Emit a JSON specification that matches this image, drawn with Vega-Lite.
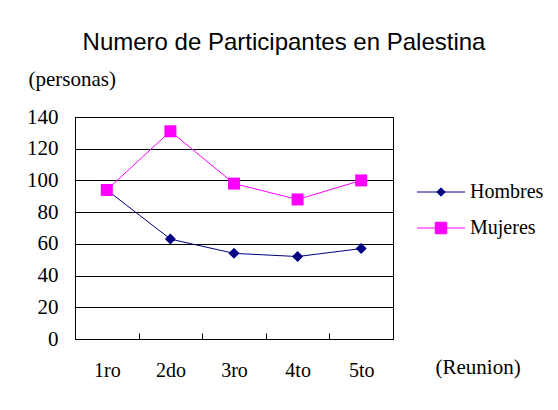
{
  "$schema": "https://vega.github.io/schema/vega-lite/v6.json",
  "width": 318,
  "height": 222,
  "autosize": "none",
  "padding": {"left": 75, "top": 117, "right": 165, "bottom": 71},
  "background": "white",
  "title": {
    "text": "Numero de Participantes en Palestina",
    "font": "Liberation Sans",
    "fontSize": 24,
    "fontWeight": "normal",
    "color": "black",
    "anchor": "middle",
    "frame": "group",
    "dx": 50,
    "offset": 13
  },
  "data": {
    "values": [
      {"reunion": "1ro", "serie": "Hombres", "personas": 94},
      {"reunion": "2do", "serie": "Hombres", "personas": 63},
      {"reunion": "3ro", "serie": "Hombres", "personas": 54},
      {"reunion": "4to", "serie": "Hombres", "personas": 52},
      {"reunion": "5to", "serie": "Hombres", "personas": 57},
      {"reunion": "1ro", "serie": "Mujeres", "personas": 94},
      {"reunion": "2do", "serie": "Mujeres", "personas": 131},
      {"reunion": "3ro", "serie": "Mujeres", "personas": 98},
      {"reunion": "4to", "serie": "Mujeres", "personas": 88},
      {"reunion": "5to", "serie": "Mujeres", "personas": 100}
    ]
  },
  "encoding": {
    "x": {
      "field": "reunion",
      "type": "nominal",
      "sort": null,
      "scale": {"type": "band", "paddingInner": 0, "paddingOuter": 0},
      "axis": {
        "title": "(Reunion)",
        "titleFont": "Liberation Serif",
        "titleFontSize": 21,
        "titleFontWeight": "normal",
        "titleColor": "black",
        "titleAlign": "left",
        "titleBaseline": "alphabetic",
        "titleX": 360,
        "titleY": 34,
        "labelAngle": 0,
        "labelFont": "Liberation Serif",
        "labelFontSize": 20,
        "labelColor": "black",
        "labelPadding": 27,
        "tickBand": "extent",
        "tickSize": -6,
        "tickColor": "black",
        "domainColor": "black",
        "grid": false
      }
    },
    "y": {
      "field": "personas",
      "type": "quantitative",
      "scale": {"domain": [0, 140], "nice": false},
      "axis": {
        "title": "(personas)",
        "titleFont": "Liberation Serif",
        "titleFontSize": 21,
        "titleFontWeight": "normal",
        "titleColor": "black",
        "titleAngle": 0,
        "titleAlign": "left",
        "titleBaseline": "middle",
        "titleX": -47,
        "titleY": -38,
        "values": [0, 20, 40, 60, 80, 100, 120, 140],
        "labelFont": "Liberation Serif",
        "labelFontSize": 21,
        "labelColor": "black",
        "labelPadding": 17,
        "tickSize": 0,
        "domainColor": "black",
        "grid": true,
        "gridColor": "black",
        "gridWidth": 1,
        "gridOpacity": 1
      }
    },
    "color": {
      "field": "serie",
      "type": "nominal",
      "scale": {"domain": ["Hombres", "Mujeres"], "range": ["#000080", "#FF00FF"]},
      "legend": {
        "orient": "none",
        "legendX": 356,
        "legendY": 65,
        "title": null,
        "padding": 0,
        "symbolSize": 100,
        "labelFont": "Liberation Serif",
        "labelFontSize": 20,
        "labelColor": "black",
        "labelOffset": 19,
        "rowPadding": 16,
        "encoding": {
          "symbols": {
            "shape": {"value": {"expr": "datum.value === 'Hombres' ? 'M-4.8,0H4.8M0,-0.85L0.85,0L0,0.85L-0.85,0Z' : 'M-4.8,0H4.8M-1.15,-1.15H1.15V1.15H-1.15Z'"}},
            "stroke": {"value": {"expr": "datum.value === 'Hombres' ? '#000080' : '#FF00FF'"}},
            "fill": {"value": {"expr": "datum.value === 'Hombres' ? '#000080' : '#FF00FF'"}},
            "strokeWidth": {"value": 1},
            "opacity": {"value": 1}
          }
        }
      }
    }
  },
  "layer": [
    {
      "mark": {"type": "line", "strokeWidth": 1}
    },
    {
      "transform": [{"filter": "datum.serie === 'Hombres'"}],
      "mark": {"type": "point", "filled": true, "opacity": 1, "strokeWidth": 0, "shape": "diamond", "size": 121}
    },
    {
      "transform": [{"filter": "datum.serie === 'Mujeres'"}],
      "mark": {"type": "point", "filled": true, "opacity": 1, "strokeWidth": 0, "shape": "square", "size": 144}
    }
  ],
  "config": {
    "view": {"stroke": "black", "strokeWidth": 1}
  }
}
